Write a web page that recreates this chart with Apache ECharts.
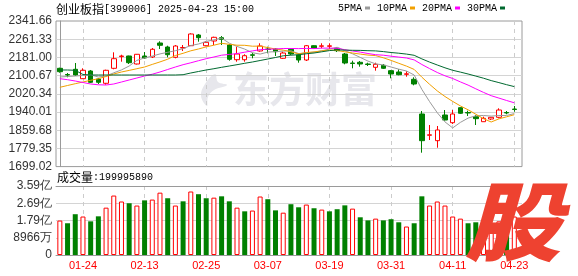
<!DOCTYPE html>
<html><head><meta charset="utf-8">
<script src="https://cdn.jsdelivr.net/npm/echarts@6/dist/echarts.min.js"></script>
<style>html,body{margin:0;padding:0;background:#fff}#c{width:578px;height:276px}</style>
</head><body><div id="c"></div>
<script>
const dates = ['01-21','01-22','01-23','01-24','01-27','02-05','02-06','02-07','02-10','02-11',
 '02-12','02-13','02-14','02-17','02-18','02-19','02-20','02-21','02-24','02-25',
 '02-26','02-27','02-28','03-03','03-04','03-05','03-06','03-07','03-10','03-11',
 '03-12','03-13','03-14','03-17','03-18','03-19','03-20','03-21','03-24','03-25',
 '03-26','03-27','03-28','03-31','04-01','04-02','04-03','04-07','04-08','04-09',
 '04-10','04-11','04-14','04-15','04-16','04-17','04-18','04-21','04-22','04-23'];
const labelDates = ['01-24','02-13','02-25','03-07','03-19','03-31','04-11','04-23'];
// open, close, low, high
const ohlc = [
 [2132.9,2117.9,2113.5,2135.5],[2105.5,2103.3,2093.2,2112.2],[2128.5,2103.3,2098.9,2156.3],[2087.0,2124.1,2085.7,2132.9],[2121.0,2071.1,2068.0,2125.4],
 [2085.7,2071.1,2063.6,2090.1],[2066.7,2124.1,2060.5,2126.7],[2132.9,2175.3,2128.5,2203.5],[2184.5,2187.2,2162.0,2192.9],[2187.2,2157.6,2151.9,2188.5],
 [2151.9,2194.7,2149.7,2196.0],[2187.2,2178.4,2175.3,2204.8],[2182.8,2216.8,2178.4,2222.5],[2244.6,2234.4,2218.1,2252.1],[2226.9,2192.9,2181.4,2232.6],
 [2181.4,2231.3,2177.0,2235.7],[2222.5,2224.7,2209.3,2235.7],[2232.6,2284.3,2231.3,2287.4],[2279.9,2268.0,2250.3,2284.3],[2232.6,2247.6,2230.0,2253.4],
 [2253.4,2269.7,2235.7,2272.4],[2268.0,2260.9,2235.7,2275.5],[2235.7,2172.6,2166.4,2240.1],[2170.8,2196.0,2162.0,2228.2],[2170.8,2188.5,2162.0,2194.7],
 [2192.5,2190.3,2177.0,2201.7],[2209.3,2231.3,2206.2,2243.2],[2218.1,2215.9,2199.1,2228.2],[2218.1,2206.2,2187.2,2221.2],[2177.0,2200.4,2173.9,2206.2],
 [2216.8,2196.0,2191.6,2220.3],[2191.6,2169.5,2157.6,2199.1],[2169.5,2232.6,2165.1,2235.7],[2232.6,2221.2,2219.4,2234.4],[2230.0,2232.2,2221.2,2243.2],
 [2230.0,2232.2,2218.1,2243.2],[2221.2,2210.6,2204.8,2226.9],[2196.0,2156.3,2150.5,2200.4],[2156.3,2154.1,2132.9,2166.4],[2159.4,2151.9,2140.0,2165.1],
 [2151.9,2149.7,2143.0,2157.6],[2137.3,2150.5,2122.3,2157.6],[2146.1,2132.9,2129.8,2151.9],[2122.3,2107.7,2088.8,2125.4],[2116.6,2104.6,2102.0,2128.5],
 [2106.4,2108.6,2095.8,2119.7],[2084.4,2063.6,2057.8,2093.2],[1931.2,1813.4,1760.4,1944.4],[1837.2,1839.4,1816.4,1882.6],[1813.4,1860.6,1782.4,1878.2],
 [1926.8,1904.7,1901.6,1948.8],[1892.8,1931.2,1887.1,1948.8],[1959.0,1934.3,1931.2,1960.8],[1937.8,1935.6,1922.4,1945.8],[1919.3,1910.5,1882.6,1926.8],
 [1897.2,1912.2,1896.5,1919.3],[1909.1,1916.6,1904.7,1918.0],[1916.6,1948.8,1912.2,1956.3],[1937.8,1935.6,1929.9,1944.4],[1953.2,1951.1,1941.3,1966.5]
];
const ma5 = [2094.5,2096.7,2098.9,2101.1,2103.8,2094.5,2098.9,2113.0,2125.8,2143.0,
 2167.8,2178.8,2186.7,2196.4,2203.5,2210.6,2219.8,2233.5,2240.1,2251.2,
 2258.7,2266.2,2243.7,2229.5,2217.6,2201.7,2195.6,2204.4,2206.6,2208.8,
 2210.1,2197.8,2200.9,2204.0,2210.1,2217.6,2225.6,2210.6,2196.9,2181.0,
 2164.7,2152.3,2147.9,2138.6,2129.1,2121.0,2103.3,2039.8,1985.9,1936.9,
 1896.3,1869.8,1894.1,1913.1,1923.2,1924.6,1921.9,1924.6,1924.6,1933.0];
const ma10 = [2049.0,2057.0,2064.9,2072.4,2079.9,2087.0,2096.7,2107.7,2116.6,2123.6,
 2131.1,2138.6,2150.1,2161.1,2173.0,2189.4,2199.1,2210.1,2218.1,2227.4,
 2234.8,2243.2,2238.8,2234.8,2234.4,2230.4,2230.9,2224.3,2218.1,2213.2,
 2205.7,2196.4,2202.6,2205.3,2209.7,2213.7,2211.5,2205.7,2200.4,2195.6,
 2191.2,2188.9,2179.2,2167.8,2155.0,2142.6,2128.0,2093.6,2062.3,2033.1,
 2008.4,1986.8,1966.9,1949.7,1930.3,1910.4,1895.9,1909.6,1918.8,1928.1];
const ma20 = [2087.0,2082.6,2076.8,2070.2,2063.6,2060.1,2059.2,2063.6,2072.4,2081.3,
 2090.1,2098.9,2106.8,2116.6,2127.6,2138.6,2148.8,2157.2,2166.4,2175.3,
 2182.8,2190.7,2194.2,2197.8,2204.0,2209.7,2215.0,2217.2,2218.1,2220.3,
 2220.3,2219.8,2220.7,2219.8,2222.0,2222.0,2221.2,2215.0,2209.3,2204.4,
 2198.2,2192.9,2190.7,2186.3,2182.3,2178.4,2170.0,2149.7,2131.6,2114.4,
 2099.8,2087.9,2072.9,2058.7,2042.4,2026.5,2012.0,2001.4,1990.8,1980.6];
const ma30 = [2125.4,2125.4,2124.1,2105.5,2103.3,2103.3,2103.3,2103.3,2103.3,2103.3,
 2103.3,2103.3,2103.3,2103.3,2103.3,2103.3,2104.6,2112.2,2118.8,2125.4,
 2131.1,2137.3,2143.0,2148.8,2155.0,2160.7,2167.3,2173.9,2180.6,2188.1,
 2190.7,2192.9,2197.1,2200.4,2205.7,2211.0,2214.1,2213.2,2212.3,2211.9,
 2210.6,2209.7,2206.6,2202.6,2199.5,2195.6,2190.3,2174.4,2160.3,2147.5,
 2135.1,2124.1,2116.1,2107.7,2098.5,2089.2,2078.6,2069.8,2060.5,2052.1];
const volumes = [1.79e8,1.65e8,2.12e8,2.00e8,1.75e8,2.01e8,2.46e8,3.09e8,2.78e8,2.69e8,
 2.57e8,2.84e8,2.88e8,3.24e8,2.95e8,2.57e8,2.79e8,3.30e8,3.16e8,2.95e8,
 2.98e8,3.05e8,2.79e8,2.46e8,2.27e8,2.31e8,3.04e8,2.90e8,2.32e8,2.20e8,
 2.64e8,2.48e8,2.62e8,2.43e8,2.36e8,2.27e8,2.38e8,2.58e8,2.41e8,1.96e8,
 1.80e8,1.89e8,1.80e8,1.86e8,1.70e8,1.48e8,1.65e8,3.05e8,2.57e8,2.78e8,
 2.57e8,2.00e8,1.89e8,1.65e8,1.70e8,1.60e8,1.50e8,1.75e8,1.68e8,199995890];
const volUp = [1,0,0,1,0,0,1,1,1,0, 1,0,1,1,0,1,0,1,0,0, 1,0,0,1,0,1,1,0,0,1,
 0,0,1,0,1,0,0,0,1,0, 0,1,0,0,0,1,0,0,1,1, 1,1,1,0,0,1,1,1,0,1];
const priceTicks = ['1699.02','1779.35','1859.68','1940.01','2020.34','2100.67','2181.00','2261.33','2341.66'];
const volTicks = ['0','8966万','1.79亿','2.69亿','3.59亿'];
const maNames = ['5PMA','10PMA','20PMA','30PMA'];

const RED = '#ff0000', GREEN = '#008000';
const maColors = ['#9a9a9a','#f2a000','#ff00ff','#00692f'];
const tickIdx = labelDates.map(d => dates.indexOf(d));
const pMin = 1699.02, pMax = 2341.66, pInt = 80.33;
const vMax = 358640000, vInt = 89660000;

const chart = echarts.init(document.getElementById('c'));
const xBase = {type:'value', min:-0.5, max:60};
const mas = [ma5, ma10, ma20, ma30];
const monoRich = {
  c:{fontSize:12, fontFamily:'"Noto Sans CJK SC"', fill:'#000', color:'#000'},
  m:{fontSize:10, fontFamily:'"Liberation Mono", monospace', fill:'#000', color:'#000'}
};
chart.setOption({
  animation:false,
  backgroundColor:'#ffffff',
  textStyle:{fontFamily:'"Liberation Sans", Arial, sans-serif'},
  legend:{
    data:maNames, left:338, top:3, align:'right', icon:'rect', itemWidth:5, itemHeight:3,
    itemGap:7, padding:0, selectedMode:false,
    textStyle:{fontFamily:'"Liberation Mono", monospace', fontSize:10, color:'#000', padding:[0,-2,0,0]}
  },
  grid:[
    {left:56, top:21, width:466, height:145.6, show:true, borderColor:'#9a9a9a', borderWidth:1, backgroundColor:'transparent'},
    {left:56, top:186, width:466, height:69, show:false}
  ],
  xAxis:[
    Object.assign({}, xBase, {gridIndex:0, axisLine:{show:false}, axisTick:{show:false, customValues:tickIdx},
      axisLabel:{show:false, customValues:tickIdx},
      splitLine:{show:true, lineStyle:{color:'#cccccc', type:[4,4]}}}),
    Object.assign({}, xBase, {gridIndex:1, axisLine:{show:true, onZero:false, lineStyle:{color:'#9a9a9a'}},
      axisTick:{show:false, customValues:tickIdx},
      axisLabel:{customValues:tickIdx, formatter:v => dates[Math.round(v)], color:RED, fontSize:11, margin:5},
      splitLine:{show:true, lineStyle:{color:'#cccccc', type:[4,4]}}}),
    Object.assign({}, xBase, {gridIndex:1, position:'top', axisLine:{show:true, onZero:false, lineStyle:{color:'#9a9a9a'}},
      axisTick:{show:false}, axisLabel:{show:false}, splitLine:{show:false}})
  ],
  yAxis:[
    {type:'value', gridIndex:0, min:pMin, max:pMax, interval:pInt,
      axisLine:{show:true, lineStyle:{color:'#9a9a9a'}}, axisTick:{show:false},
      axisLabel:{formatter:v => priceTicks[Math.round((v - pMin) / pInt)], color:'#333', fontSize:12, margin:4},
      splitLine:{show:true, showMinLine:false, showMaxLine:false, lineStyle:{color:'#d4d4d4'}}},
    {type:'value', gridIndex:1, min:0, max:vMax, interval:vInt,
      axisLine:{show:false}, axisTick:{show:false},
      axisLabel:{formatter:v => volTicks[Math.round(v / vInt)], color:'#333', fontSize:12, margin:4},
      splitLine:{show:true, showMinLine:false, showMaxLine:false, lineStyle:{color:'#d4d4d4'}}}
  ],
  series:[
    {type:'candlestick', name:'K', xAxisIndex:0, yAxisIndex:0, barWidth:5,
      data:ohlc.map((d, i) => [i, d[0], d[1], d[2], d[3]]),
      itemStyle:{color:'#ffffff', color0:GREEN, borderColor:RED, borderColor0:GREEN, borderWidth:1}}
  ].concat(mas.map((arr, k) => ({
      type:'line', name:maNames[k], xAxisIndex:0, yAxisIndex:0, showSymbol:false, symbol:'none',
      data:arr.map((v, i) => [i, v]), color:maColors[k],
      lineStyle:{width:1, color:maColors[k]}, itemStyle:{color:maColors[k]}, z:3
  }))).concat([
    {type:'bar', name:'VOL', xAxisIndex:1, yAxisIndex:1, barWidth:5,
      data:volumes.map((v, i) => ({value:[i, v],
        itemStyle: volUp[i] ? {color:'#ffffff', borderColor:RED, borderWidth:1} : {color:GREEN, borderColor:GREEN, borderWidth:0}}))}
  ]),
  graphic:[
    {type:'text', left:56, top:3, style:{text:'{c|创业板指}{m|[399006] 2025-04-23 15:00}', rich:monoRich}},
    {type:'text', left:57, top:171, style:{text:'{c|成交量}{m|:199995890}', rich:monoRich}},
    {type:'polygon', z:-1, silent:true,
      shape:{points:[[215,74],[205,84],[201,96],[207,106],[208,97],[214,90],[227,85],[218,82]], smooth:0.4},
      style:{fill:'#e7e7ec'}},
    {type:'text', left:233, top:71, z:-1, silent:true,
      style:{text:'东方财富', fontSize:36, fontWeight:'bold', fontFamily:'"Noto Sans CJK SC"', fill:'#e7e7ec'}},
    {type:'text', x:513, y:221, z:100, scaleX:1.12, silent:true,
      style:{text:'股', fontSize:86, fontWeight:900, fontStyle:'italic', fontFamily:'"Noto Sans CJK SC"',
        fill:'#ee4230', align:'center', verticalAlign:'middle'}}
  ]
});
</script>
</body></html>
